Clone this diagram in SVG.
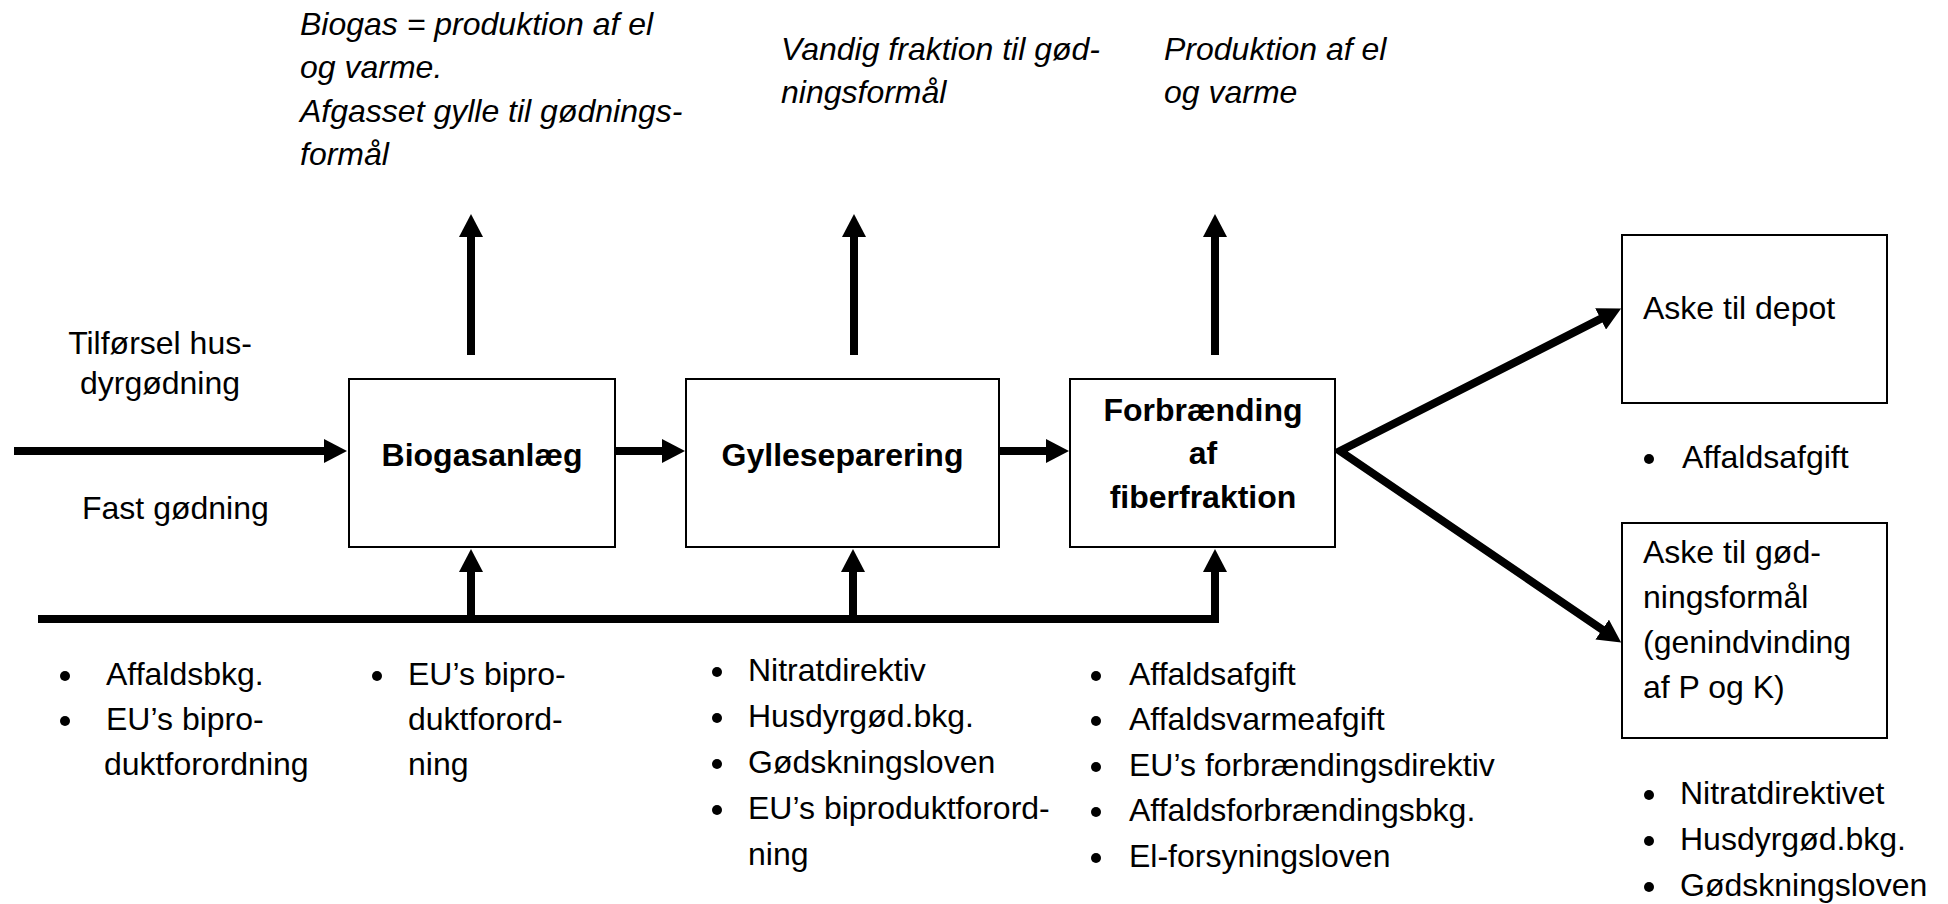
<svg xmlns="http://www.w3.org/2000/svg" width="1948" height="904" viewBox="0 0 1948 904">
<style>
  text { font-family: "Liberation Sans", Arial, sans-serif; font-size: 32px; fill: #000; }
  .it { font-style: italic; }
  .b { font-weight: bold; }
  .mid { text-anchor: middle; }
  .box { fill: #fff; stroke: #000; stroke-width: 2; }
  .con { fill: none; stroke: #000; stroke-width: 8; stroke-linejoin: miter; }
  .dot { fill: #000; }
</style>
<defs>
  <marker id="ah" markerUnits="userSpaceOnUse" markerWidth="24" markerHeight="24" refX="1" refY="12" orient="auto-start-reverse">
    <path d="M0,0 L23,12 L0,24 z" fill="#000"/>
  </marker>
</defs>
<rect width="1948" height="904" fill="#fff"/>

<g id="output-labels">
  <text class="it" x="300" y="35">Biogas = produktion af el</text>
  <text class="it" x="300" y="78">og varme.</text>
  <text class="it" x="300" y="122">Afgasset gylle til gødnings-</text>
  <text class="it" x="300" y="165">formål</text>
  <text class="it" x="781" y="60">Vandig fraktion til gød-</text>
  <text class="it" x="781" y="103">ningsformål</text>
  <text class="it" x="1164" y="60">Produktion af el</text>
  <text class="it" x="1164" y="103">og varme</text>
</g>

<g id="input-labels">
  <text class="mid" x="160" y="354">Tilførsel hus-</text>
  <text class="mid" x="160" y="394">dyrgødning</text>
  <text x="82" y="519">Fast gødning</text>
</g>

<g id="connectors">
  <line class="con" x1="14" y1="451" x2="325" y2="451" marker-end="url(#ah)"/>
  <line class="con" x1="615" y1="451" x2="663" y2="451" marker-end="url(#ah)"/>
  <line class="con" x1="999" y1="451" x2="1047" y2="451" marker-end="url(#ah)"/>
  <line class="con" x1="471" y1="355" x2="471" y2="236" marker-end="url(#ah)"/>
  <line class="con" x1="854" y1="355" x2="854" y2="236" marker-end="url(#ah)"/>
  <line class="con" x1="1215" y1="355" x2="1215" y2="236" marker-end="url(#ah)"/>
  <path class="con" d="M38,619 H1215 V571" marker-end="url(#ah)"/>
  <line class="con" x1="471" y1="619" x2="471" y2="571" marker-end="url(#ah)"/>
  <line class="con" x1="853" y1="619" x2="853" y2="571" marker-end="url(#ah)"/>
  <path class="con" d="M1601.5,318.4 L1340,451 L1603,630.1" marker-start="url(#ah)" marker-end="url(#ah)"/>
</g>

<g id="biogasanlaeg">
  <rect class="box" x="349" y="379" width="266" height="168"/>
  <text class="b mid" x="482" y="466">Biogasanlæg</text>
</g>
<g id="gylleseparering">
  <rect class="box" x="686" y="379" width="313" height="168"/>
  <text class="b mid" x="842.5" y="466">Gylleseparering</text>
</g>
<g id="forbraending">
  <rect class="box" x="1070" y="379" width="265" height="168"/>
  <text class="b mid" x="1203" y="421">Forbrænding</text>
  <text class="b mid" x="1203" y="464">af</text>
  <text class="b mid" x="1203" y="508">fiberfraktion</text>
</g>
<g id="aske-depot">
  <rect class="box" x="1622" y="235" width="265" height="168"/>
  <text x="1643" y="319">Aske til depot</text>
</g>
<g id="aske-goedning">
  <rect class="box" x="1622" y="523" width="265" height="215"/>
  <text x="1643" y="563">Aske til gød-</text>
  <text x="1643" y="608">ningsformål</text>
  <text x="1643" y="653">(genindvinding</text>
  <text x="1643" y="698">af P og K)</text>
</g>

<g id="rules-depot">
  <circle class="dot" cx="1649" cy="459" r="5"/>
  <text x="1682" y="468">Affaldsafgift</text>
</g>

<g id="rules-col1">
  <circle class="dot" cx="65" cy="676" r="5"/>
  <text x="106" y="685">Affaldsbkg.</text>
  <circle class="dot" cx="65" cy="721" r="5"/>
  <text x="106" y="730">EU’s bipro-</text>
  <text x="104" y="775">duktforordning</text>
</g>
<g id="rules-col2">
  <circle class="dot" cx="377" cy="676" r="5"/>
  <text x="408" y="685">EU’s bipro-</text>
  <text x="408" y="730">duktforord-</text>
  <text x="408" y="775">ning</text>
</g>
<g id="rules-col3">
  <circle class="dot" cx="717" cy="672" r="5"/>
  <text x="748" y="681">Nitratdirektiv</text>
  <circle class="dot" cx="717" cy="718" r="5"/>
  <text x="748" y="727">Husdyrgød.bkg.</text>
  <circle class="dot" cx="717" cy="764" r="5"/>
  <text x="748" y="773">Gødskningsloven</text>
  <circle class="dot" cx="717" cy="810" r="5"/>
  <text x="748" y="819">EU’s biproduktforord-</text>
  <text x="748" y="865">ning</text>
</g>
<g id="rules-col4">
  <circle class="dot" cx="1096" cy="676" r="5"/>
  <text x="1129" y="685">Affaldsafgift</text>
  <circle class="dot" cx="1096" cy="721" r="5"/>
  <text x="1129" y="730">Affaldsvarmeafgift</text>
  <circle class="dot" cx="1096" cy="767" r="5"/>
  <text x="1129" y="776">EU’s forbrændingsdirektiv</text>
  <circle class="dot" cx="1096" cy="812" r="5"/>
  <text x="1129" y="821">Affaldsforbrændingsbkg.</text>
  <circle class="dot" cx="1096" cy="858" r="5"/>
  <text x="1129" y="867">El-forsyningsloven</text>
</g>
<g id="rules-goedning">
  <circle class="dot" cx="1649" cy="795" r="5"/>
  <text x="1680" y="804">Nitratdirektivet</text>
  <circle class="dot" cx="1649" cy="841" r="5"/>
  <text x="1680" y="850">Husdyrgød.bkg.</text>
  <circle class="dot" cx="1649" cy="887" r="5"/>
  <text x="1680" y="896">Gødskningsloven</text>
</g>
</svg>
